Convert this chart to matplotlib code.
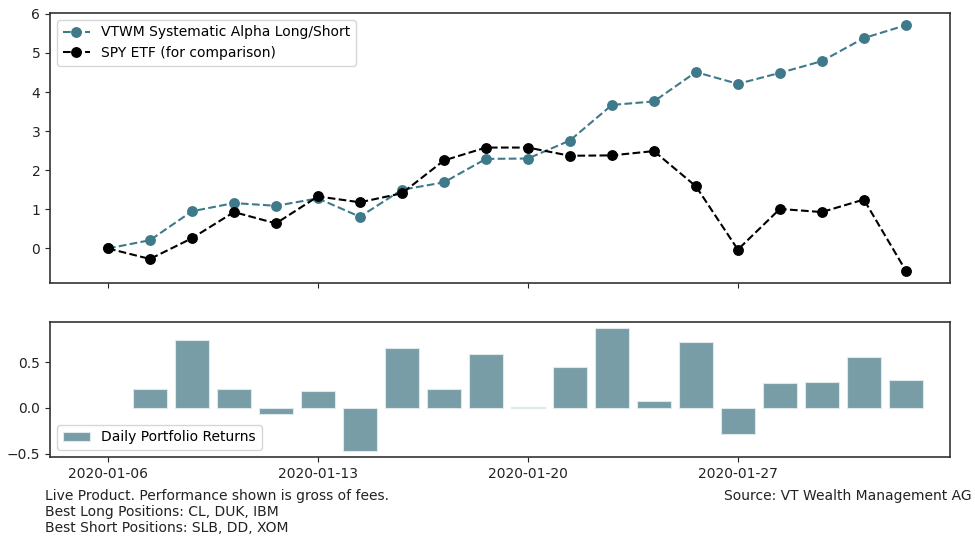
import matplotlib
matplotlib.use("Agg")
import matplotlib.pyplot as plt
import numpy as np

idx = list(range(20))
tick_pos = [0, 5, 10, 15]
tick_labels = ["2020-01-06", "2020-01-13", "2020-01-20", "2020-01-27"]

vtwm = [0.0, 0.21, 0.95, 1.16, 1.09, 1.28, 0.81, 1.50, 1.69, 2.29,
        2.30, 2.76, 3.67, 3.76, 4.51, 4.21, 4.49, 4.79, 5.38, 5.71]
spy = [0.0, -0.27, 0.26, 0.93, 0.64, 1.33, 1.18, 1.41, 2.25, 2.58,
       2.58, 2.37, 2.38, 2.49, 1.59, -0.03, 1.01, 0.93, 1.25, -0.57]
bar_idx = list(range(1, 20))
daily = [0.21, 0.74, 0.21, -0.07, 0.19, -0.47, 0.66, 0.21, 0.59,
         0.01, 0.45, 0.87, 0.08, 0.72, -0.29, 0.27, 0.28, 0.56, 0.31]

footer_lines = ["Live Product. Performance shown is gross of fees.",
                "Best Long Positions: CL, DUK, IBM",
                "Best Short Positions: SLB, DD, XOM"]
source_text = "Source: VT Wealth Management AG"

teal = "#3f7a8a"
bar_col = "#789da6"

fig = plt.figure(figsize=(9.75, 5.38), dpi=100)
ax1 = fig.add_axes([0.0513, 0.474, 0.9230, 0.502])
ax2 = fig.add_axes([0.0513, 0.1506, 0.9230, 0.2504])

ax1.plot(idx, vtwm, linestyle="--", marker="o", color=teal, markersize=6.8,
         linewidth=1.5, label="VTWM Systematic Alpha Long/Short")
ax1.plot(idx, spy, linestyle="--", marker="o", color="black", markersize=6.8,
         linewidth=1.5, label="SPY ETF (for comparison)")
ax1.set_xlim(-1.38, 20.05)
ax1.set_xticks(tick_pos)
ax1.set_xticklabels([])
ax1.legend(loc="upper left")

ax2.bar(bar_idx, daily, width=0.8, color=bar_col, edgecolor="#dfe8ea",
        linewidth=0.8, label="Daily Portfolio Returns")
ax2.set_xlim(-1.38, 20.05)
ax2.set_xticks(tick_pos)
ax2.set_xticklabels(tick_labels)
ax2.set_yticks([-0.5, 0.0, 0.5])
ax2.legend(loc="lower left")

for ax in (ax1, ax2):
    for s in ax.spines.values():
        s.set_color("#333333")
        s.set_linewidth(1.2)
    ax.tick_params(colors="#222222")

for i, line in enumerate(footer_lines):
    fig.text(45 / 975, 1 - (496 + 16 * i) / 538, line,
             ha="left", va="center", fontsize=10, color="#222222")
fig.text(972 / 975, 1 - 496 / 538, source_text,
         ha="right", va="center", fontsize=10, color="#222222")

fig.savefig("out.png", dpi=100)
